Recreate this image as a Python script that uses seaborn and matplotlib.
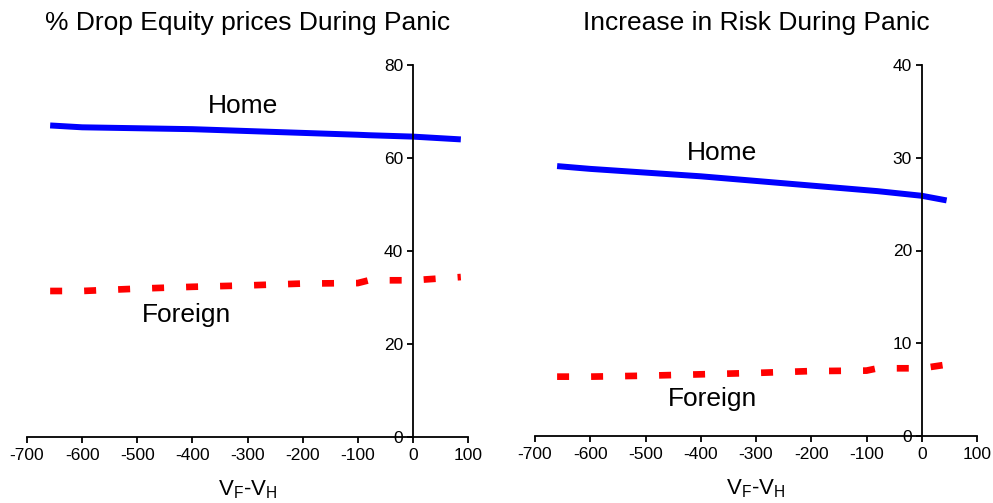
import matplotlib
matplotlib.use("Agg")
import matplotlib.pyplot as plt
import seaborn as sns
import pandas as pd

# ---- data ----
x_left = [-658, -600, -500, -400, -300, -200, -100, -80, 0, 87]
home_drop = [67.0, 66.6, 66.4, 66.2, 65.8, 65.4, 65.0, 64.9, 64.6, 64.0]
foreign_drop = [31.4, 31.4, 31.9, 32.3, 32.6, 33.0, 33.1, 33.7, 33.7, 34.4]

x_right = [-660, -600, -500, -400, -300, -200, -100, -80, 0, 45]
home_risk = [29.1, 28.8, 28.4, 28.0, 27.5, 27.0, 26.5, 26.4, 25.9, 25.4]
foreign_risk = [6.4, 6.4, 6.5, 6.65, 6.8, 7.0, 7.05, 7.3, 7.3, 7.7]

titles = ["% Drop Equity prices During Panic", "Increase in Risk During Panic"]
y_max = [80, 40]
y_ticks = [[0, 20, 40, 60, 80], [0, 10, 20, 30, 40]]
x_ticks = [-700, -600, -500, -400, -300, -200, -100, 0, 100]
labels_pos = {
    0: {"Home": (-309, 71.2), "Foreign": (-410, 26.2)},
    1: {"Home": (-362, 30.5), "Foreign": (-378, 4.0)},
}

sns.set_style("ticks")
plt.rcParams['font.family'] = ['Liberation Sans', 'DejaVu Sans']
plt.rcParams['mathtext.fontset'] = 'custom'
plt.rcParams['mathtext.rm'] = 'Liberation Sans'
plt.rcParams['mathtext.it'] = 'Liberation Sans'
plt.rcParams['text.color'] = 'black'
plt.rcParams['axes.labelcolor'] = 'black'

fig = plt.figure(figsize=(9.93, 5.03), dpi=100)
W, H = 993, 503
axes = [
    fig.add_axes([27 / W, 1 - 437 / H, (468 - 27) / W, (437 - 65) / H]),
    fig.add_axes([535 / W, 1 - 436 / H, (977 - 535) / W, (436 - 65) / H]),
]

datasets = [
    (x_left, home_drop, foreign_drop),
    (x_right, home_risk, foreign_risk),
]

for i, ax in enumerate(axes):
    xs, home, foreign = datasets[i]
    df = pd.DataFrame({"x": xs + xs,
                       "y": home + foreign,
                       "series": ["Home"] * len(xs) + ["Foreign"] * len(xs)})
    sns.lineplot(data=df[df.series == "Home"], x="x", y="y", ax=ax,
                 color="#0000ff", lw=4.3, solid_capstyle="butt", sort=False)
    sns.lineplot(data=df[df.series == "Foreign"], x="x", y="y", ax=ax,
                 color="#ff0000", lw=4.8, sort=False,
                 dashes=False)
    ln = ax.lines[-1]
    ln.set_dashes([1.8, 3.3])
    ln.set_dash_capstyle("butt")

    ax.set_xlim(-700, 100)
    ax.set_ylim(0, y_max[i])
    ax.set_xticks(x_ticks)
    ax.set_xticklabels([str(t) for t in x_ticks])
    ax.set_yticks(y_ticks[i])
    ax.spines['left'].set_position(('data', 0))
    ax.spines['bottom'].set_position(('data', 0))
    ax.spines['top'].set_visible(False)
    ax.spines['right'].set_visible(False)
    for s in ('left', 'bottom'):
        ax.spines[s].set_color('black')
        ax.spines[s].set_linewidth(1.3)
    ax.tick_params(axis='both', direction='out', length=4, width=1.3,
                   colors='black', labelsize=12.5, pad=3,
                   bottom=True, left=True, top=False, right=False)
    ax.tick_params(axis='x', pad=4)
    ax.set_xlabel(r"$\mathregular{V_F}$-$\mathregular{V_H}$", fontsize=16, labelpad=11)
    ax.set_ylabel("")
    ax.set_title(titles[i], fontsize=19, pad=25, color='black')
    for name, (tx, ty) in labels_pos[i].items():
        ax.text(tx, ty, name, fontsize=19, ha='center', va='center', color='black')
    ax.patch.set_alpha(0)
    ax.grid(False)

fig.savefig("out.png", dpi=100)
